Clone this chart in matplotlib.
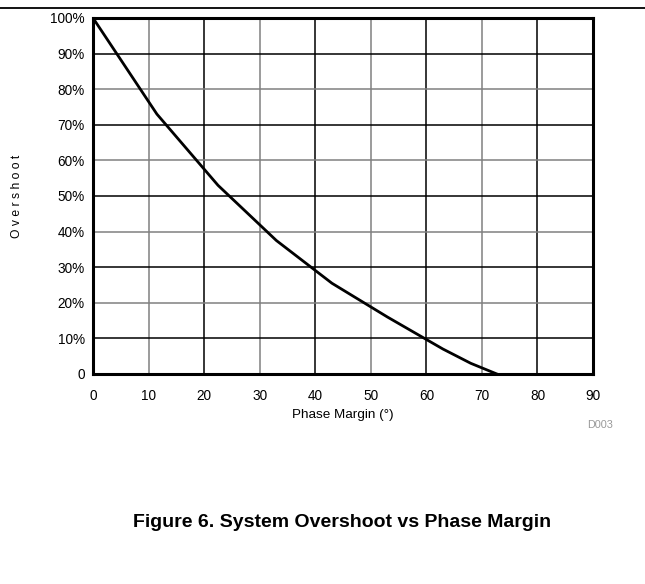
import numpy as np
import matplotlib.pyplot as plt
from matplotlib.lines import Line2D
from matplotlib.ticker import FuncFormatter

plt.rcParams['font.family'] = ['Liberation Sans', 'DejaVu Sans']

# Overshoot vs phase margin
phase_margin = [0, 11.5, 22.5, 33, 43, 53, 63, 68, 72.7]
overshoot = [100, 73, 53, 37.5, 25.5, 16, 7, 3, 0]

x_ticks = list(range(0, 91, 10))
y_ticks = list(range(0, 101, 10))

fig = plt.figure(figsize=(6.45, 5.84), dpi=100)
ax = fig.add_axes([0.1442, 0.3596, 0.7752, 0.6096])

# grid lines alternate grey and black
for i, xv in enumerate(x_ticks[1:-1]):
    ax.axvline(xv, color='#808080' if i % 2 == 0 else 'black', lw=1.1, zorder=1)
for i, yv in enumerate(y_ticks[1:-1]):
    ax.axhline(yv, color='black' if i % 2 == 0 else '#808080', lw=1.1, zorder=1)

ax.plot(phase_margin, overshoot, color='black', lw=2, zorder=3)

ax.set_xlim(0, 90)
ax.set_ylim(0, 100)
ax.set_xticks(x_ticks)
ax.set_yticks(y_ticks)
ax.yaxis.set_major_formatter(FuncFormatter(lambda v, p: '0' if v == 0 else f'{v:.0f}%'))
ax.tick_params(length=0, labelsize=9.8)
ax.tick_params(axis='x', pad=11)
ax.tick_params(axis='y', pad=6)
for s in ax.spines.values():
    s.set_linewidth(2.2)

ax.set_xlabel('Phase Margin (°)', fontsize=9.7, labelpad=4)
fig.text(0.026, 0.664, 'O v e r s h o o t', rotation=90, fontsize=8.7,
         ha='center', va='center')
fig.text(0.931, 0.272, 'D003', fontsize=7.8, color='#999999', ha='center', va='center')
fig.text(0.531, 0.106, 'Figure 6. System Overshoot vs Phase Margin', fontsize=14,
         fontweight='bold', ha='center', va='center')

fig.add_artist(Line2D([0, 1], [0.987, 0.987], color='black', lw=1.3,
                      transform=fig.transFigure))

fig.savefig('out.png', dpi=100)
